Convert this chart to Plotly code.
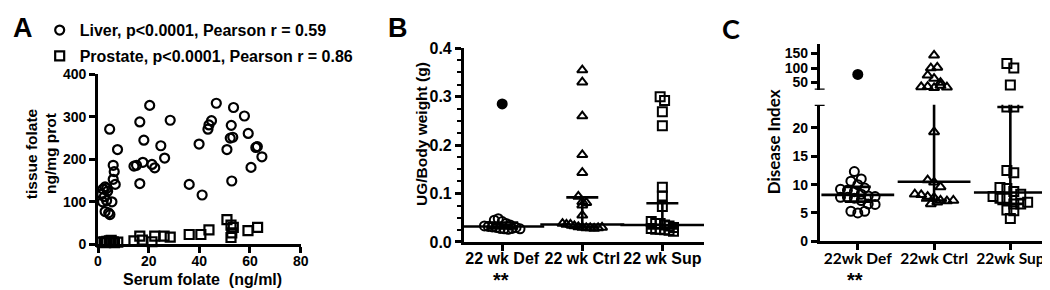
import plotly.graph_objects as go

W, H = 1050, 290

# ---------------- Panel A data ----------------
liver_serum = [4.6, 7.7, 6.0, 6.4, 6.0, 6.8, 2.0, 2.8, 3.5, 1.5, 3.8, 2.5, 1.8, 3.4, 5.5, 2.8, 4.7, 4.2,
               14.2, 15.2, 17.7, 16.5, 18.1, 16.5, 20.4, 21.3, 22.4, 24.8, 26.3, 28.5,
               36.0, 39.9, 41.1, 43.4, 43.8, 44.8, 46.7, 50.9, 52.6, 52.2, 53.2, 52.8, 53.5,
               57.8, 59.3, 60.4, 62.3, 62.9, 64.7]
liver_tissue = [271, 223, 186, 171, 153, 141, 130, 135, 132, 118, 125, 112, 100, 103, 100, 77, 70, 74,
                184, 186, 193, 288, 245, 143, 327, 188, 180, 232, 203, 292,
                141, 236, 116, 271, 281, 291, 332, 223, 280, 250, 252, 149, 322,
                302, 261, 181, 228, 230, 206]
prostate_serum = [1.5, 2.5, 3.5, 4.5, 5.2, 6.0, 6.5, 7.8, 3.0, 5.0,
                  14.2, 16.5, 17.5, 21.3, 22.4, 26.1, 28.5, 36.0, 40.6, 43.8,
                  50.9, 52.5, 53.4, 52.8, 52.5, 59.2, 63.0]
prostate_tissue = [5, 6, 7, 8, 9, 6, 4, 5, 4, 5,
                   8, 19, 10, 6, 19, 19, 17, 23, 23, 34,
                   58, 45, 40, 27, 16, 32, 40]
liver_name = "Liver, p&lt;0.0001, Pearson r = 0.59"
prostate_name = "Prostate, p&lt;0.0001, Pearson r = 0.86"
a_xticks = [0, 20, 40, 60, 80]
a_yticks = [0, 100, 200, 300, 400]

# ---------------- Panel B data ----------------
groups_B = ["22 wk Def", "22 wk Ctrl", "22 wk Sup"]
ug_def = [0.045, 0.048, 0.042, 0.038, 0.035, 0.033, 0.032, 0.031, 0.030, 0.028, 0.027, 0.026, 0.028, 0.030, 0.027]
ug_def_filled = [0.285]
ug_ctrl = [0.355, 0.33, 0.26, 0.18, 0.143, 0.094, 0.083, 0.081, 0.076, 0.055,
           0.038, 0.036, 0.036, 0.033, 0.031, 0.030, 0.029, 0.029, 0.028, 0.029, 0.030]
ug_sup = [0.300, 0.292, 0.269, 0.240, 0.113, 0.095, 0.073,
          0.042, 0.038, 0.038, 0.035, 0.033, 0.030, 0.028, 0.026, 0.026, 0.025, 0.024, 0.022]
ug_median = [0.032, 0.036, 0.035]
ug_q1 = [0.028, 0.030, 0.028]
ug_q3 = [0.040, 0.092, 0.080]

# ---------------- Panel C data ----------------
groups_C = ["22wk Def", "22wk Ctrl", "22wk Sup"]
di_def = [12.3, 11.0, 10.6, 10.0, 9.4, 9.2, 9.0, 8.75, 8.3, 8.0, 7.9, 7.75, 7.75, 7.6, 7.2, 6.6, 6.5, 5.3, 5.0, 5.3]
di_def_filled = [78]
di_ctrl = [19.3, 10.8, 10.4, 9.6, 8.3, 8.2, 7.9, 7.7, 7.2, 7.1, 7.2, 6.6, 6.9,
           144, 100, 102, 75, 64, 50, 35, 36, 32, 40, 34]
di_sup = [23.7, 23.7, 12.5, 12.1, 9.5, 9.3, 8.8, 8.3, 7.9, 7.6, 7.6, 6.6, 6.6, 6.9, 5.5, 5.4, 4.0,
          116, 100, 42]
di_median = [8.2, 10.5, 8.6]
di_q1 = [7.0, 7.2, 6.6]
di_q3 = [9.6, 36.0, 23.7]
c_low_ticks = [0, 5, 10, 15, 20]
c_high_ticks = [50, 100, 150]

# ---------------- geometry (pixels) ----------------
A_X = (87, 292); A_Y = (242.5, 62)
B_X = (457, 700); B_Y = (240, 34.3)
C_X = (817, 1050); C_LOW = (239.3, 94.3); C_HIGH = (78.3, 30)
A_XR = [0, 80]; A_YR = [0, 400]
B_XR = [-0.48, 2.52]; B_YR = [0, 0.4]
C_XR = [-0.5, 2.52]; C_LOWR = [0, 24.1]; C_HIGHR = [25.5, 182]


def xdom(p):
    return [p[0] / W, p[1] / W]


def ydom(p):
    return [1 - p[0] / H, 1 - p[1] / H]


def val_to_py(v, pix, rng):
    return pix[0] + (v - rng[0]) / (rng[1] - rng[0]) * (pix[1] - pix[0])


def rows_spread(vals, ypix, xpx_per_unit, row_h, sep):
    """GraphPad-like scatter: bin points into pixel rows, centre each row horizontally"""
    order = sorted(range(len(vals)), key=lambda i: ypix(vals[i]))
    bins, cur, start = [], [], None
    for i in order:
        y = ypix(vals[i])
        if cur and abs(y - start) > row_h:
            bins.append(cur)
            cur = []
        if not cur:
            start = y
        cur.append(i)
    if cur:
        bins.append(cur)
    out = [0.0] * len(vals)
    for b in bins:
        b = sorted(b)  # original order -> natural mixing inside a row
        n = len(b)
        for k, i in enumerate(b):
            out[i] = (k - (n - 1) / 2) * sep / xpx_per_unit
    return out


BLACK = "black"
FA = dict(family="Liberation Sans, Arial, sans-serif", color=BLACK, weight="bold")
FC = dict(family="Lato, Liberation Sans, sans-serif", color=BLACK, weight="bold")

fig = go.Figure()

# ---- Panel A ----
fig.add_trace(go.Scatter(x=liver_serum, y=liver_tissue, mode="markers", name=liver_name,
                         legendgroup="l", cliponaxis=False,
                         marker=dict(symbol="circle-open", size=9, color=BLACK, line=dict(width=2.2, color=BLACK)),
                         xaxis="x", yaxis="y"))
fig.add_trace(go.Scatter(x=prostate_serum, y=prostate_tissue, mode="markers", name=prostate_name,
                         legendgroup="p", cliponaxis=False,
                         marker=dict(symbol="square-open", size=9, color=BLACK, line=dict(width=2.2, color=BLACK)),
                         xaxis="x", yaxis="y"))

# ---- Panel B ----
b_xppu = (B_X[1] - B_X[0]) / (B_XR[1] - B_XR[0])
b_ypix = lambda v: val_to_py(v, B_Y, B_YR)
b_sets = [(ug_def, "circle-open", 4.0), (ug_ctrl, "triangle-up-open", 4.0), (ug_sup, "square-open", 4.5)]
for gi, (vals, sym, sep) in enumerate(b_sets):
    offs = rows_spread(vals, b_ypix, b_xppu, 7, sep)
    fig.add_trace(go.Scatter(x=[gi + o for o in offs], y=vals, mode="markers", showlegend=False,
                             cliponaxis=False,
                             marker=dict(symbol=sym, size=9, color=BLACK, line=dict(width=2, color=BLACK)),
                             xaxis="x2", yaxis="y2"))
fig.add_trace(go.Scatter(x=[0] * len(ug_def_filled), y=ug_def_filled, mode="markers", showlegend=False,
                         marker=dict(symbol="circle", size=11, color=BLACK),
                         xaxis="x2", yaxis="y2"))
fig.add_trace(go.Scatter(x=[0, 1, 2], y=ug_median, mode="markers", showlegend=False,
                         marker=dict(symbol="line-ew", size=60, color=BLACK, line=dict(width=2.6, color=BLACK)),
                         error_y=dict(type="data", symmetric=False,
                                      array=[q - m for q, m in zip(ug_q3, ug_median)],
                                      arrayminus=[m - q for q, m in zip(ug_q1, ug_median)],
                                      thickness=2.6, width=16, color=BLACK),
                         xaxis="x2", yaxis="y2"))

# ---- Panel C ----
c_xppu = (C_X[1] - C_X[0]) / (C_XR[1] - C_XR[0])


def c_ypix(v):
    if v <= C_LOWR[1]:
        return val_to_py(v, C_LOW, C_LOWR)
    return val_to_py(v, C_HIGH, C_HIGHR)


c_sets = [(di_def, "circle-open", 7.0), (di_ctrl, "triangle-up-open", 6.5), (di_sup, "square-open", 7.0)]
for gi, (vals, sym, sep) in enumerate(c_sets):
    offs = rows_spread(vals, c_ypix, c_xppu, 8, sep)
    low = [(gi + o, v) for o, v in zip(offs, vals) if v <= C_LOWR[1]]
    high = [(gi + o, v) for o, v in zip(offs, vals) if v > C_LOWR[1]]
    mk = dict(symbol=sym, size=9, color=BLACK, line=dict(width=2, color=BLACK))
    if low:
        fig.add_trace(go.Scatter(x=[p[0] for p in low], y=[p[1] for p in low], mode="markers",
                                 showlegend=False, marker=mk, xaxis="x3", yaxis="y3"))
    if high:
        fig.add_trace(go.Scatter(x=[p[0] for p in high], y=[p[1] for p in high], mode="markers",
                                 showlegend=False, marker=mk, cliponaxis=False, xaxis="x3", yaxis="y4"))
fig.add_trace(go.Scatter(x=[0] * len(di_def_filled), y=di_def_filled, mode="markers", showlegend=False,
                         cliponaxis=False, marker=dict(symbol="circle", size=11, color=BLACK),
                         xaxis="x3", yaxis="y4"))
fig.add_trace(go.Scatter(x=[0, 1, 2], y=di_median, mode="markers", showlegend=False,
                         marker=dict(symbol="line-ew", size=52, color=BLACK, line=dict(width=2.6, color=BLACK)),
                         error_y=dict(type="data", symmetric=False,
                                      array=[q - m for q, m in zip(di_q3, di_median)],
                                      arrayminus=[m - q for q, m in zip(di_q1, di_median)],
                                      thickness=2.6, width=13, color=BLACK),
                         xaxis="x3", yaxis="y3"))

axis_common = dict(showline=True, linewidth=2.6, linecolor=BLACK, ticks="outside", ticklen=6,
                   tickwidth=2.6, tickcolor=BLACK, showgrid=False, zeroline=False, fixedrange=True)

fig.update_layout(
    width=W, height=H, margin=dict(l=0, r=0, t=0, b=0),
    paper_bgcolor="white", plot_bgcolor="white",
    showlegend=True,
    legend=dict(x=28 / W, y=1 + 3 / H, xanchor="left", yanchor="top", bgcolor="rgba(0,0,0,0)",
                font=dict(size=16, **FA), tracegroupgap=2, itemclick=False, borderwidth=0),
    xaxis=dict(domain=xdom(A_X), range=A_XR, tickvals=a_xticks, anchor="y", ticklabelstandoff=-4,
               tickfont=dict(size=14, **FA), **axis_common),
    yaxis=dict(domain=ydom(A_Y), range=A_YR, tickvals=a_yticks, anchor="x",
               tickfont=dict(size=14, **FA), **axis_common),
    xaxis2=dict(domain=xdom(B_X), range=B_XR, tickvals=[0, 1, 2], ticktext=groups_B, anchor="y2",
                ticklabelstandoff=-6, tickfont=dict(size=16, **FA), **axis_common),
    yaxis2=dict(domain=ydom(B_Y), range=B_YR, dtick=0.1, tick0=0, tickformat=".1f", anchor="x2",
                tickfont=dict(size=16, **FA),
                minor=dict(dtick=0.025, tick0=0, ticks="outside", ticklen=4, tickwidth=2, tickcolor=BLACK),
                **axis_common),
    xaxis3=dict(domain=xdom(C_X), range=C_XR, tickvals=[0, 1, 2], ticktext=groups_C, anchor="y3",
                ticklabelstandoff=-5, tickfont=dict(size=15.5, **FC), **axis_common),
    yaxis3=dict(domain=ydom(C_LOW), range=C_LOWR, tickvals=c_low_ticks, anchor="x3",
                tickfont=dict(size=14, **FA), **axis_common),
    yaxis4=dict(domain=ydom(C_HIGH), range=C_HIGHR, tickvals=c_high_ticks, anchor="x3",
                tickfont=dict(size=14, **FA), **axis_common),
)

# axis-break caps on panel C
for yref, yv in (("y3", C_LOWR[1]), ("y4", C_HIGHR[0])):
    fig.add_shape(type="line", xref="paper", yref=yref, x0=(C_X[0] - 5) / W, x1=(C_X[0] + 5) / W,
                  y0=yv, y1=yv, line=dict(color=BLACK, width=2.6))


def ann(text, px, py, size, font, angle=0):
    fig.add_annotation(text=text, x=px / W, y=1 - py / H, xref="paper", yref="paper",
                       xanchor="center", yanchor="middle", showarrow=False, textangle=angle,
                       font=dict(size=size, **font))


ann("A", 11, 13, 27, FA)
ann("B", 390, 13, 27, FA)
ann("C", 727, 13, 27, FC)
ann("tissue folate", 20, 146, 15.5, FA, -90)
ann("ng/mg prot", 39, 146, 15.5, FA, -90)
ann("Serum folate  (ng/ml)", 193, 280, 16, FA)
ann("UG/Body weight (g)", 414, 125, 15.5, FA, -90)
ann("Disease Index", 770, 134, 17, FC, -90)
ann("**", 495, 280, 20, FA)
ann("**", 853, 280, 20, FA)

fig.write_html("out.html")
